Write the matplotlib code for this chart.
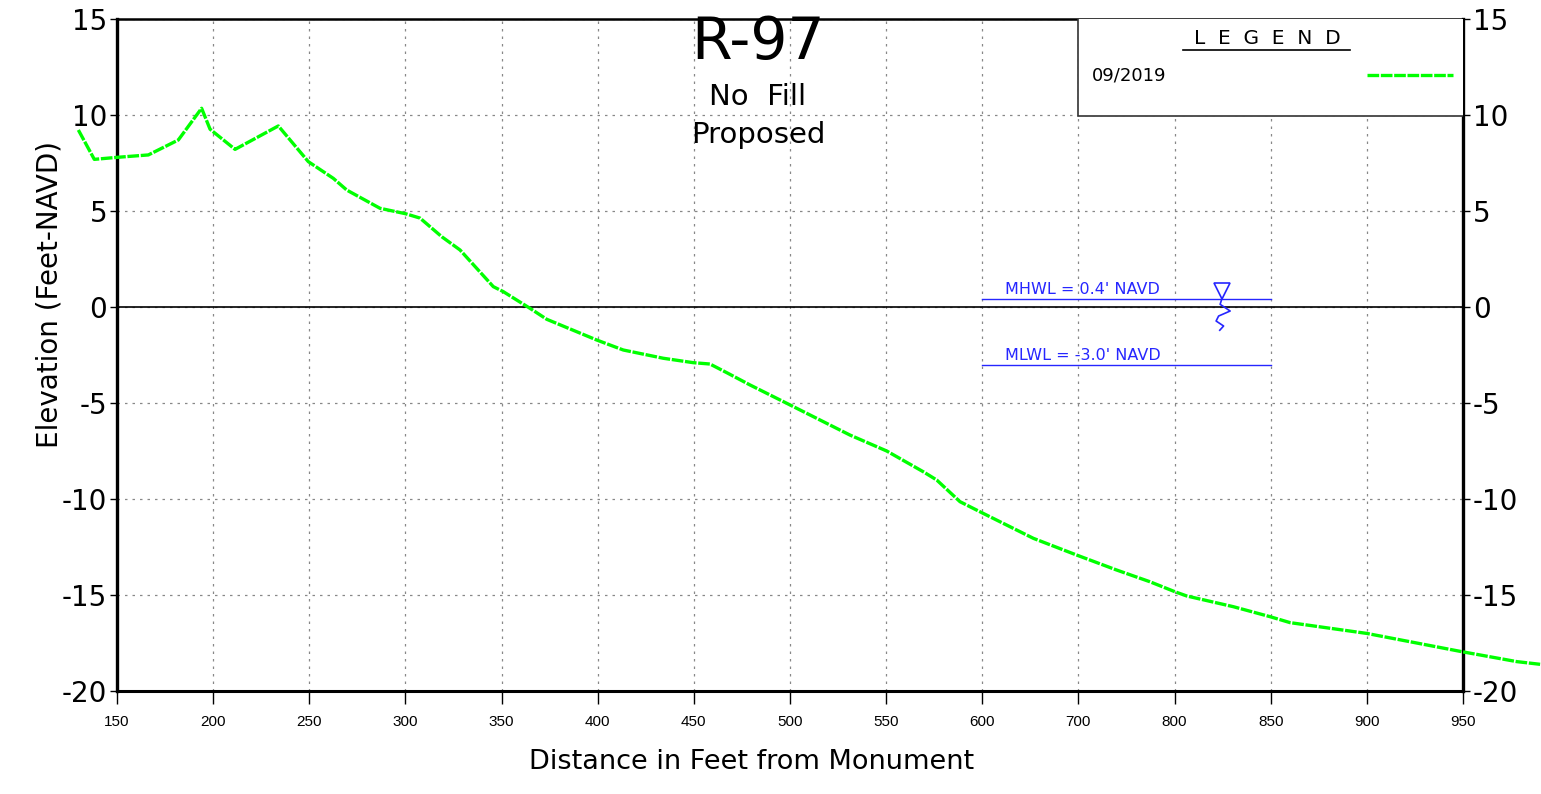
"""Beach profile plot for monument R-97 (09/2019 survey)."""

import matplotlib.pyplot as plt
import numpy as np
from matplotlib.lines import Line2D
from matplotlib.patches import Rectangle

plt.rcParams["font.family"] = ["DejaVu Sans"]

# Profile survey (axis position, elevation in feet NAVD)
DIST = [129.9, 138.2, 150.7, 166.3, 181.9, 194.0, 198.4, 211.4, 233.9, 249.5,
        262.5, 269.5, 286.8, 300.0, 307.6, 318.9, 328.4, 345.7, 350.9, 364.8,
        373.5, 399.5, 413.3, 434.1, 449.7, 458.4, 467.1, 479.2, 500.0, 531.2,
        550.3, 569.3, 576.3, 588.4, 600.5, 626.6, 649.1, 669.9, 687.2, 700.2,
        706.3, 730.6, 749.7, 760.1, 799.9, 849.3, 878.0, 890.1]
ELEV = [9.22, 7.69, 7.80, 7.92, 8.70, 10.35, 9.26, 8.21, 9.43, 7.57,
        6.70, 6.09, 5.14, 4.86, 4.63, 3.66, 2.97, 1.06, 0.80, -0.07,
        -0.64, -1.72, -2.24, -2.67, -2.90, -2.97, -3.42, -4.06, -5.10, -6.67,
        -7.50, -8.58, -9.01, -10.14, -10.75, -12.05, -12.92, -13.70, -14.31, -14.83,
        -15.05, -15.61, -16.13, -16.44, -17.00, -17.95, -18.47, -18.61]

X_TICK_LABELS = ["150", "200", "250", "300", "350", "400", "450", "500",
                 "550", "600", "700", "800", "850", "900", "950"]
Y_TICKS = [-20, -15, -10, -5, 0, 5, 10, 15]

MHWL = 0.4
MLWL = -3.0
WL_SPAN = [600, 750]
WL_MARK_X = 724.5

GREEN = "#00ff00"
BLUE = "#2626ff"
PROFILE_STYLE = dict(color=GREEN, linewidth=2.4, linestyle=(0, (3.5, 0.5)))

fig = plt.figure(figsize=(15.41, 7.94), dpi=100)
ax = fig.add_axes([117 / 1541, 1 - 691 / 794, 1346 / 1541, 672 / 794])

x_pos = np.arange(150, 150 + 50 * len(X_TICK_LABELS), 50)
ax.set_xlim(x_pos[0], x_pos[-1])
ax.set_ylim(-20, 15)
ax.set_xticks(x_pos)
ax.set_xticklabels(X_TICK_LABELS, fontsize=11, family="Liberation Sans")
ax.set_yticks(Y_TICKS)
ax.set_yticklabels([str(v) for v in Y_TICKS], fontsize=20)

ax.grid(True, color="#888888", linestyle=(0, (2, 4)), linewidth=0.9)
ax.axhline(0, color="black", linewidth=1.2, zorder=2)

# Spines:
for side, lw in (("left", 2.4), ("right", 2.4), ("top", 1.8), ("bottom", 2.2)):
    ax.spines[side].set_linewidth(lw)
ax.tick_params(axis="x", direction="out", length=9, width=1, pad=8)
ax.tick_params(axis="y", direction="out", length=5, width=1, pad=2,
               right=True, labelright=True)

# Profile line:
ax.plot(DIST, ELEV, clip_on=False, zorder=5, **PROFILE_STYLE)

# Water levels:
for level, label in ((MHWL, "MHWL = 0.4' NAVD"), (MLWL, "MLWL = -3.0' NAVD")):
    ax.plot(WL_SPAN, [level, level], color=BLUE, linewidth=1, zorder=4)
    ax.text(WL_SPAN[0] + 12, level + 0.1, label, color=BLUE, fontsize=11.5,
            ha="left", va="bottom", zorder=4)
ax.plot([WL_MARK_X], [MHWL + 0.42], marker="v", markersize=12,
        markerfacecolor="white", markeredgecolor=BLUE, markeredgewidth=1.2,
        linestyle="none", zorder=6)
sq_dx = np.array([0.0, -0.8, 4.4, -1.6, -2.9, 1.0, -1.0])
sq_dy = np.array([0.0, -0.26, -0.61, -0.87, -1.13, -1.39, -1.61])
ax.plot(WL_MARK_X + sq_dx, MHWL + sq_dy, color=BLUE, linewidth=1.2, zorder=6)

# Legend box:
ax.add_patch(Rectangle((0.714, 0.8557), 0.29, 0.15, transform=ax.transAxes,
                       facecolor="white", edgecolor="#333333", linewidth=1.2,
                       zorder=7, clip_on=True))
fig.text(1267 / 1541, 1 - 38 / 794, "L  E  G  E  N  D", fontsize=14.5,
         ha="center", va="center")
fig.add_artist(Line2D([1183 / 1541, 1350 / 1541], [1 - 50 / 794, 1 - 50 / 794],
                      color="black", linewidth=1.2))
fig.text(1092 / 1541, 1 - 75 / 794, "09/2019", fontsize=13,
         ha="left", va="center")
ax.plot([0.9287, 0.9926], [0.9167, 0.9167], transform=ax.transAxes,
        zorder=8, **PROFILE_STYLE)

# Titles:
fig.text(758 / 1541, 1 - 42 / 794, "R-97", fontsize=42, ha="center", va="center")
fig.text(758 / 1541, 1 - 97 / 794, "No  Fill", fontsize=21, ha="center", va="center")
fig.text(758 / 1541, 1 - 135 / 794, "Proposed", fontsize=21, ha="center", va="center")

fig.text(752 / 1541, 1 - 762 / 794, "Distance in Feet from Monument",
         fontsize=19.5, ha="center", va="center")
fig.text(50 / 1541, 1 - 295 / 794, "Elevation (Feet-NAVD)", fontsize=20,
         rotation=90, ha="center", va="center")

fig.savefig("out.png", dpi=100)
